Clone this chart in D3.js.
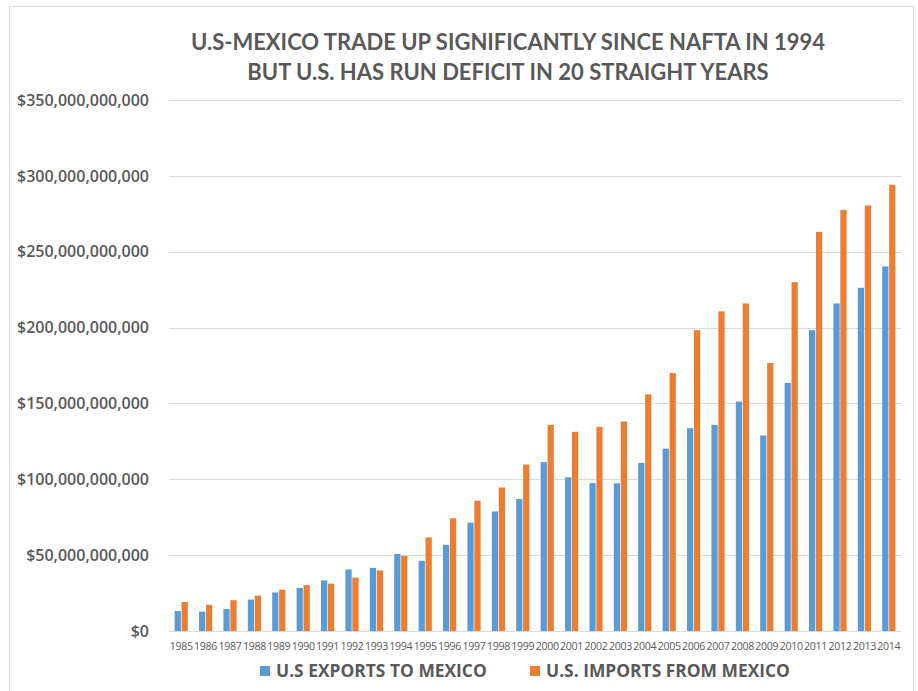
<!DOCTYPE html>
<html>
<head>
<meta charset="utf-8">
<script src="https://cdn.jsdelivr.net/npm/d3@7"></script>
<style>
  body { margin: 0; background: #fff; }
  svg { display: block; }
</style>
</head>
<body>
<div id="chart"></div>
<script>
const years = ['1985','1986','1987','1988','1989','1990','1991','1992','1993','1994',
  '1995','1996','1997','1998','1999','2000','2001','2002','2003','2004',
  '2005','2006','2007','2008','2009','2010','2011','2012','2013','2014'];

// billions of dollars
const exportsToMexico = [13.2, 12.8, 14.5, 20.7, 25.4, 28.4, 33.3, 40.6, 41.6, 50.8,
  46.3, 56.8, 71.4, 78.8, 87.0, 111.3, 101.3, 97.5, 97.4, 110.8,
  120.2, 133.7, 135.9, 151.2, 128.9, 163.5, 198.3, 215.9, 226.2, 240.3];
const importsFromMexico = [19.1, 17.3, 20.3, 23.3, 27.2, 30.2, 31.2, 35.2, 39.9, 49.5,
  61.7, 74.3, 85.9, 94.6, 109.7, 135.9, 131.3, 134.6, 138.1, 155.9,
  170.1, 198.3, 210.7, 215.9, 176.7, 229.9, 263.1, 277.6, 280.5, 294.1];

const seriesNames = ['U.S EXPORTS TO MEXICO', 'U.S. IMPORTS FROM MEXICO'];
const seriesColors = ['#5B9BD5', '#ED7D31'];
const yTicks = [0, 50, 100, 150, 200, 250, 300, 350];
const titleLines = ['U.S-MEXICO TRADE UP SIGNIFICANTLY SINCE NAFTA IN 1994',
  'BUT U.S. HAS RUN DEFICIT IN 20 STRAIGHT YEARS'];

const width = 918;
const height = 691;
const margin = { top: 100, right: 17, bottom: 60, left: 169 };

const svg = d3.select('#chart').append('svg')
  .attr('width', width)
  .attr('height', height);

// light frame round the chart area
svg.append('rect')
  .attr('x', 9.5).attr('y', 6.5)
  .attr('width', 904).attr('height', 700)
  .attr('fill', 'none')
  .attr('stroke', '#d9d9d9');

const x0 = d3.scaleBand()
  .domain(years)
  .range([margin.left, width - margin.right])
  .paddingInner(0.46)
  .paddingOuter(0.23);

const x1 = d3.scaleBand()
  .domain(seriesNames)
  .range([0, x0.bandwidth()])
  .paddingInner(0.1);

const y = d3.scaleLinear()
  .domain([0, 350])
  .range([631, 100]);

// gridlines
svg.append('g')
  .selectAll('line')
  .data(yTicks)
  .join('line')
  .attr('x1', margin.left)
  .attr('x2', width - margin.right)
  .attr('y1', d => Math.round(y(d)) + 0.5)
  .attr('y2', d => Math.round(y(d)) + 0.5)
  .attr('stroke', '#d9d9d9')
  .attr('stroke-width', 1);

// y axis labels
const fmt = d3.format(',');
svg.append('g')
  .selectAll('text')
  .data(yTicks)
  .join('text')
  .attr('x', 149)
  .attr('y', d => y(d))
  .attr('dy', '0.36em')
  .attr('text-anchor', 'end')
  .attr('font-family', 'Open Sans, sans-serif')
  .attr('font-weight', 600)
  .attr('font-size', 16)
  .attr('fill', '#595959')
  .text(d => '$' + fmt(d * 1e9));

// bars
const rows = years.map((yr, i) => ({
  year: yr,
  values: [exportsToMexico[i], importsFromMexico[i]]
}));

const groups = svg.append('g')
  .selectAll('g')
  .data(rows)
  .join('g')
  .attr('transform', d => `translate(${x0(d.year)},0)`);

groups.selectAll('rect')
  .data(d => d.values.map((v, j) => ({ key: seriesNames[j], value: v, color: seriesColors[j] })))
  .join('rect')
  .attr('x', d => x1(d.key))
  .attr('width', x1.bandwidth())
  .attr('y', d => y(d.value))
  .attr('height', d => y(0) - y(d.value))
  .attr('fill', d => d.color);

// x axis labels
svg.append('g')
  .selectAll('text')
  .data(years)
  .join('text')
  .attr('x', d => x0(d) + x0.bandwidth() / 2)
  .attr('y', 646)
  .attr('dy', '0.35em')
  .attr('text-anchor', 'middle')
  .attr('font-family', 'Open Sans, sans-serif')
  .attr('font-size', 10.6)
  .attr('letter-spacing', -0.3)
  .attr('fill', '#595959')
  .text(d => d);

// title
svg.append('g')
  .selectAll('text')
  .data(titleLines)
  .join('text')
  .attr('x', 508)
  .attr('y', (d, i) => 42 + i * 30)
  .attr('dy', '0.36em')
  .attr('text-anchor', 'middle')
  .attr('font-family', 'Lato, sans-serif')
  .attr('font-weight', 'bold')
  .attr('font-size', 22)
  .attr('fill', '#595959')
  .text(d => d);

// legend
const legendX = [260, 530];
const legend = svg.append('g')
  .selectAll('g')
  .data(seriesNames)
  .join('g')
  .attr('transform', (d, i) => `translate(${legendX[i]},671)`);

legend.append('rect')
  .attr('x', 0).attr('y', -5)
  .attr('width', 10).attr('height', 10)
  .attr('fill', (d, i) => seriesColors[i]);

legend.append('text')
  .attr('x', 16)
  .attr('dy', '0.36em')
  .attr('font-family', 'Open Sans, sans-serif')
  .attr('font-weight', 'bold')
  .attr('font-size', 17.4)
  .attr('fill', '#595959')
  .text(d => d);
</script>
</body>
</html>
